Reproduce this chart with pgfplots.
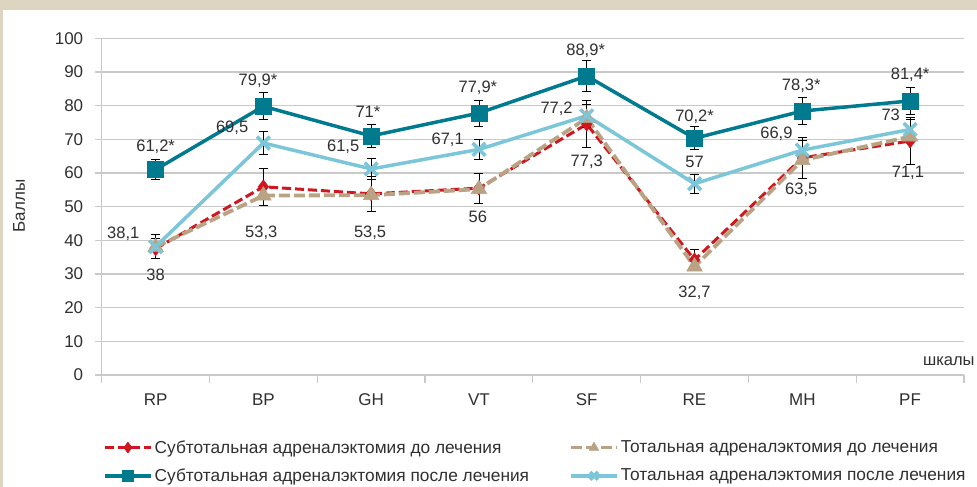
\documentclass[border=0pt]{standalone}
\usepackage{pgfplots}
\usepackage{pgfplotstable}
\pgfplotsset{compat=1.18}
\usepackage{fontspec}
\setmainfont{Liberation Sans}
\definecolor{frame}{HTML}{DED5C1}
\definecolor{gridgray}{HTML}{C9C9C9}
\definecolor{txt}{HTML}{303030}
\definecolor{cred}{HTML}{D0161F}
\definecolor{ctan}{HTML}{B9A384}
\definecolor{cdark}{HTML}{007A8E}
\definecolor{clight}{HTML}{7CC6DA}

\pgfplotstableread{
x y e
0 37.5 3.0
1 55.9 5.6
2 53.8 5.3
3 55.5 4.4
4 74.5 7.0
5 34.2 3.0
6 64.5 6.0
7 69.5 7.0
}\redtab
\pgfplotstableread{
x y
0 38.0
1 53.3
2 53.4
3 55.2
4 76.3
5 32.2
6 63.8
7 70.8
}\tantab
\pgfplotstableread{
x y e
0 61.0 3.0
1 79.8 4.0
2 71.0 3.5
3 77.8 3.9
4 88.8 4.5
5 70.3 3.4
6 78.4 3.9
7 81.4 4.0
}\darktab
\pgfplotstableread{
x y e
0 38.1 3.6
1 68.9 3.5
2 61.2 3.0
3 67.0 3.0
4 77.0 3.5
5 56.8 2.8
6 66.8 3.0
7 72.9 3.0
}\lighttab

\begin{document}
\begin{tikzpicture}[x=1pt,y=1pt]
\fill[frame] (0,0) rectangle (977,487);
\fill[white] (2.7,0) rectangle (977,477);
\useasboundingbox (0,0) rectangle (977,487);
\node[rotate=90, font=\fontsize{17}{20}\selectfont, text=txt] at (19,281) {Баллы};
\begin{axis}[
  at={(101.7pt,112pt)}, anchor=south west,
  scale only axis, width=862.3pt, height=336.7pt,
  xmin=-0.5, xmax=7.5, ymin=0, ymax=100,
  axis x line*=bottom, axis y line*=left,
  axis line style={draw=gridgray, line width=1.2pt},
  clip=false,
  xtick={0,...,7}, xticklabels={RP,BP,GH,VT,SF,RE,MH,PF},
  minor xtick={-0.5,0.5,...,7.5},
  ytick={0,10,...,100},
  tick align=outside,
  major x tick style={draw=none},
  minor x tick style={draw=gridgray, line width=1.2pt},
  minor tick length=8pt,
  major y tick style={draw=gridgray, line width=1.2pt},
  major tick length=7pt,
  ymajorgrids, grid style={draw=gridgray, line width=1.2pt},
  /pgf/number format/assume math mode=true,
  tick label style={font=\fontsize{17}{20}\selectfont, text=txt},
  xticklabel style={yshift=-8pt},
  yticklabel style={xshift=-8pt},
  legend columns=2,
  legend style={at={(axis description cs:-0.002,-0.182)}, anchor=north west,
    draw=none, fill=none, font=\fontsize{17.3}{20}\selectfont, text=txt,
    row sep=10pt, /tikz/every even column/.append style={column sep=38pt}},
  legend cell align=left,
  legend image code/.code={\draw[mark repeat=2,mark phase=2,#1,mark size=5.5pt] plot coordinates {(0pt,0pt) (23pt,0pt) (46pt,0pt)};},
  error bars/error bar style={black, line width=0.8pt, solid},
  error bars/error mark options={rotate=90, mark size=4.5pt, black, line width=0.8pt, solid},
]
\addplot[cred, line width=3pt, dash pattern=on 9pt off 4pt, mark=diamond*, mark size=7pt,
  mark options={solid, fill=cred, draw=cred, line width=0.5pt},
  error bars/.cd, y dir=both, y explicit]
  table[x=x, y=y, y error=e] {\redtab};
\addlegendentry{Субтотальная адреналэктомия до лечения}
\addplot[ctan, line width=3.8pt, dash pattern=on 11pt off 4pt, mark=triangle*, mark size=9pt,
  mark options={solid, fill=ctan, draw=ctan, line width=0.5pt}]
  table[x=x, y=y] {\tantab};
\addlegendentry{Тотальная адреналэктомия до лечения}
\addplot[cdark, line width=3.5pt, mark=square*, mark size=8pt,
  mark options={solid, fill=cdark, draw=cdark, line width=0.5pt},
  error bars/.cd, y dir=both, y explicit]
  table[x=x, y=y, y error=e] {\darktab};
\addlegendentry{Субтотальная адреналэктомия после лечения}
\addplot[clight, line width=3.5pt, mark=x, mark size=9pt,
  mark options={solid, draw=clight, line width=3.5pt},
  error bars/.cd, y dir=both, y explicit]
  table[x=x, y=y, y error=e] {\lighttab};
\addlegendentry{Тотальная адреналэктомия после лечения}

\tikzset{lab/.style={font=\fontsize{16.5}{19}\selectfont, text=txt, inner sep=0pt}}
% dark labels
\node[lab] at (axis cs:0,67.8) {61,2*};
\node[lab] at (axis cs:0.95,87.4) {79,9*};
\node[lab] at (axis cs:1.97,78.2) {71*};
\node[lab] at (axis cs:2.99,85.2) {77,9*};
\node[lab] at (axis cs:3.99,96.3) {88,9*};
\node[lab] at (axis cs:5.0,76.7) {70,2*};
\node[lab] at (axis cs:5.99,85.8) {78,3*};
\node[lab] at (axis cs:7.0,89.1) {81,4*};
% light labels
\node[lab] at (axis cs:-0.30,41.9) {38,1};
\node[lab] at (axis cs:0.71,73.4) {69,5};
\node[lab] at (axis cs:1.74,67.8) {61,5};
\node[lab] at (axis cs:2.71,69.8) {67,1};
\node[lab] at (axis cs:3.72,79.0) {77,2};
\node[lab] at (axis cs:5.0,63.4) {57};
\node[lab] at (axis cs:5.76,71.6) {66,9};
\node[lab] at (axis cs:6.82,77.2) {73};
% before labels
\node[lab] at (axis cs:0,29.7) {38};
\node[lab] at (axis cs:0.98,42.1) {53,3};
\node[lab] at (axis cs:1.99,42.2) {53,5};
\node[lab] at (axis cs:2.99,47.0) {56};
\node[lab] at (axis cs:4.0,63.4) {77,3};
\node[lab] at (axis cs:5.0,24.3) {32,7};
\node[lab] at (axis cs:5.99,54.9) {63,5};
\node[lab] at (axis cs:6.98,59.9) {71,1};
\node[lab, anchor=east] at (axis cs:7.60,4) {шкалы};
\end{axis}
\end{tikzpicture}
\end{document}
